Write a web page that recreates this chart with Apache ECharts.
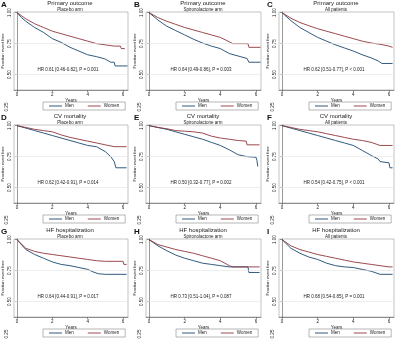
<!DOCTYPE html>
<html lang="en">
<head>
<meta charset="UTF-8">
<title>Kaplan-Meier curves by sex</title>
<script src="https://cdn.jsdelivr.net/npm/echarts@6/dist/echarts.min.js"></script>
<style>
    body { margin: 0; padding: 0; background: #fff; }
    #chart { width: 400px; height: 344px; }
</style>
</head>
<body>
<div id="chart"></div>
<script>
    // panel texts
    const outcomeTitles = ['Primary outcome', 'CV mortality', 'HF hospitalization'];
    const armNames = ['Placebo arm', 'Spironolactone arm', 'All patients'];
    const panelLetters = ['A', 'B', 'C', 'D', 'E', 'F', 'G', 'H', 'I'];
    const hrTexts = [
        'HR 0.61 [0.46-0.82], P = 0.001',
        'HR 0.64 [0.49-0.86], P = 0.003',
        'HR 0.62 [0.51-0.77], P < 0.001',
        'HR 0.62 [0.42-0.91], P = 0.014',
        'HR 0.50 [0.32-0.77], P = 0.002',
        'HR 0.54 [0.42-0.75], P < 0.001',
        'HR 0.64 [0.44-0.91], P = 0.017',
        'HR 0.73 [0.51-1.04], P = 0.087',
        'HR 0.68 [0.54-0.85], P = 0.001'
    ];
    const xTicks = [0, 2, 4, 6];
    const yTicks = [0.5, 0.75, 1.0];
    const gridValues = [0.5, 0.75];
    const strayTick = '0.25';

    // [years, fraction event free]
    const menA = [[0,1],[0.25,0.96],[0.5,0.93],[1,0.88],[1.5,0.84],[2,0.79],[2.5,0.76],[3,0.72],[3.5,0.69],[4,0.66],[4.5,0.645],[5,0.625],[5.3,0.6],[5.5,0.6],[5.55,0.57],[6.25,0.57]];
    const womenA = [[0,1],[0.5,0.95],[1,0.91],[1.5,0.88],[2,0.85],[2.5,0.83],[3,0.81],[3.5,0.79],[4,0.77],[4.5,0.75],[5,0.74],[5.5,0.73],[5.85,0.73],[5.9,0.71],[6.1,0.71]];
    const menB = [[0,1],[0.5,0.94],[1,0.89],[1.5,0.855],[2,0.82],[2.5,0.785],[3,0.755],[3.5,0.73],[4,0.71],[4.5,0.67],[5,0.65],[5.5,0.63],[5.6,0.6],[6.25,0.6]];
    const womenB = [[0,1],[0.5,0.96],[1,0.93],[1.5,0.905],[2,0.88],[2.5,0.86],[3,0.84],[3.5,0.82],[4,0.8],[4.5,0.765],[4.7,0.75],[5.55,0.75],[5.6,0.72],[6.25,0.72]];
    const menC = [[0,1],[0.5,0.935],[1,0.88],[1.5,0.84],[2,0.8],[2.5,0.77],[3,0.74],[3.5,0.715],[4,0.69],[4.5,0.66],[5,0.635],[5.4,0.61],[5.6,0.59],[6.2,0.59]];
    const womenC = [[0,1],[0.5,0.955],[1,0.92],[1.5,0.895],[2,0.87],[2.5,0.85],[3,0.83],[3.5,0.81],[4,0.79],[4.5,0.77],[5,0.755],[5.5,0.745],[6,0.73],[6.2,0.72]];
    const menD = [[0,1],[0.5,0.98],[1,0.96],[1.5,0.94],[2,0.92],[2.5,0.9],[3,0.88],[3.5,0.86],[4,0.84],[4.5,0.83],[5,0.79],[5.3,0.75],[5.5,0.71],[5.6,0.66],[6.2,0.66]];
    const womenD = [[0,1],[0.5,0.985],[1,0.97],[1.5,0.96],[2,0.95],[2.5,0.925],[3,0.905],[3.5,0.89],[4,0.875],[4.5,0.86],[5,0.845],[5.5,0.83],[6.2,0.83]];
    const menE = [[0,1],[0.5,0.985],[1,0.97],[1.5,0.95],[2,0.93],[2.5,0.91],[3,0.89],[3.5,0.865],[4,0.84],[4.5,0.805],[5,0.765],[5.5,0.75],[6,0.745],[6.05,0.72],[6.1,0.67]];
    const womenE = [[0,1],[0.5,0.985],[1,0.975],[1.5,0.96],[2,0.955],[2.5,0.95],[3,0.94],[3.5,0.915],[4,0.9],[4.5,0.89],[5,0.88],[5.45,0.875],[5.5,0.845],[6.2,0.845]];
    const menF = [[0,1],[0.5,0.98],[1,0.96],[1.5,0.94],[2,0.92],[2.5,0.9],[3,0.88],[3.5,0.86],[4,0.84],[4.5,0.8],[5,0.76],[5.4,0.73],[5.5,0.71],[6,0.7],[6.05,0.66],[6.2,0.66]];
    const womenF = [[0,1],[0.5,0.985],[1,0.97],[1.5,0.96],[2,0.95],[2.5,0.935],[3,0.92],[3.5,0.905],[4,0.89],[4.5,0.88],[5,0.865],[5.5,0.84],[6.2,0.84]];
    const menG = [[0,1],[0.5,0.92],[1,0.88],[1.5,0.85],[2,0.82],[2.5,0.8],[3,0.79],[3.5,0.775],[4,0.76],[4.3,0.74],[4.6,0.725],[5,0.72],[6.2,0.72]];
    const womenG = [[0,1],[0.5,0.93],[1,0.905],[1.5,0.89],[2,0.88],[2.5,0.87],[3,0.86],[3.5,0.85],[4,0.84],[4.5,0.83],[5,0.825],[6,0.825],[6.05,0.8],[6.2,0.8]];
    const menH = [[0,1],[0.5,0.95],[1,0.91],[1.5,0.875],[2,0.85],[2.5,0.83],[3,0.81],[3.5,0.8],[4,0.79],[4.5,0.78],[5,0.78],[5.55,0.78],[5.6,0.735],[6.2,0.735]];
    const womenH = [[0,1],[0.5,0.96],[1,0.94],[1.5,0.92],[2,0.905],[2.5,0.89],[3,0.87],[3.5,0.85],[4,0.83],[4.5,0.79],[4.7,0.78],[6.2,0.78]];
    const menI = [[0,1],[0.5,0.93],[1,0.89],[1.5,0.86],[2,0.84],[2.5,0.81],[3,0.79],[3.5,0.78],[4,0.775],[4.5,0.76],[5,0.745],[5.5,0.72],[6.2,0.72]];
    const womenI = [[0,1],[0.5,0.95],[1,0.92],[1.5,0.9],[2,0.88],[2.5,0.865],[3,0.85],[3.5,0.835],[4,0.82],[4.5,0.81],[5,0.8],[5.5,0.79],[6,0.78],[6.2,0.78]];

    const menCurves = [menA, menB, menC, menD, menE, menF, menG, menH, menI];
    const womenCurves = [womenA, womenB, womenC, womenD, womenE, womenF, womenG, womenH, womenI];

    const MEN_COLOR = '#1a476f';
    const WOMEN_COLOR = '#90353b';
    const colX = [0, 133, 266];
    const rowY = [0, 113, 227];
    const small = { fontFamily: 'Liberation Sans, Arial, sans-serif', color: '#222' };

    const chart = echarts.init(document.getElementById('chart'));
    const grids = [], xAxes = [], yAxes = [], series = [], titles = [], legends = [], graphics = [];

    for (let i = 0; i < 9; i++) {
        const r = Math.floor(i / 3), c = i % 3;
        const ox = colX[c], oy = rowY[r];

        grids.push({
            left: ox + 13, top: oy + 12, width: 115, height: 78,
            show: true, borderColor: '#9a9a9a', borderWidth: 0.6, backgroundColor: '#fff'
        });
        xAxes.push({
            gridIndex: i, type: 'value', min: -0.17, max: 6.28,
            name: 'Years', nameLocation: 'middle', nameGap: 8,
            nameTextStyle: Object.assign({ fontSize: 4.5 }, small),
            axisLine: { show: true, onZero: false, lineStyle: { color: '#555', width: 0.6 } },
            axisTick: { show: true, length: 2, customValues: xTicks, lineStyle: { color: '#555', width: 0.6 } },
            axisLabel: Object.assign({ fontSize: 4.5, margin: 2, customValues: xTicks }, small),
            splitLine: { show: false }
        });
        yAxes.push({
            gridIndex: i, type: 'value', min: 0.376, max: 1.005,
            name: 'Fraction event free', nameLocation: 'middle', nameGap: 9, nameRotate: 90,
            nameTextStyle: Object.assign({ fontSize: 4.2 }, small),
            axisLine: { show: true, lineStyle: { color: '#555', width: 0.6 } },
            axisTick: { show: true, length: 2, customValues: yTicks, lineStyle: { color: '#555', width: 0.6 } },
            axisLabel: Object.assign({
                fontSize: 4.5, margin: 2, rotate: 90, customValues: yTicks,
                formatter: v => v.toFixed(2)
            }, small),
            splitLine: { show: false }
        });
        series.push({
            name: 'Men', type: 'line', xAxisIndex: i, yAxisIndex: i,
            data: menCurves[i], symbol: 'none', silent: true, z: 3,
            lineStyle: { color: MEN_COLOR, width: 0.9 }, itemStyle: { color: MEN_COLOR },
            markLine: {
                silent: true, symbol: 'none', label: { show: false },
                lineStyle: { color: '#e3e3e3', width: 0.6, type: 'solid' },
                data: gridValues.map(v => ({ yAxis: v }))
            }
        });
        series.push({
            name: 'Women', type: 'line', xAxisIndex: i, yAxisIndex: i,
            data: womenCurves[i], symbol: 'none', silent: true, z: 3,
            lineStyle: { color: WOMEN_COLOR, width: 0.9 }, itemStyle: { color: WOMEN_COLOR }
        });
        titles.push({
            text: outcomeTitles[r], subtext: armNames[c],
            left: ox + 70, top: oy, textAlign: 'center', padding: 0, itemGap: 1,
            textStyle: Object.assign({ fontSize: 6, fontWeight: 'normal' }, small),
            subtextStyle: Object.assign({ fontSize: 4.5 }, small)
        });
        legends.push({
            data: ['Men', 'Women'], left: ox + 43, top: oy + 102,
            icon: 'rect', itemWidth: 13, itemHeight: 0.9, itemGap: 14,
            padding: [1.5, 6], borderColor: '#888', borderWidth: 0.6,
            textStyle: Object.assign({ fontSize: 4.5, padding: [0, 0, 0, -2] }, small)
        });
        graphics.push({
            type: 'text', left: ox + 1, top: oy + 1,
            style: { text: panelLetters[i], font: 'bold 8px Liberation Sans, Arial, sans-serif', fill: '#111' }
        });
        graphics.push({
            type: 'text', x: ox + 68, y: oy + 70,
            style: {
                text: hrTexts[i], font: '4.5px Liberation Sans, Arial, sans-serif',
                fill: '#222', align: 'center', verticalAlign: 'middle'
            }
        });
        graphics.push({
            type: 'text', x: ox + 7, y: oy + 107, rotation: Math.PI / 2,
            style: {
                text: strayTick, font: '4.5px Liberation Sans, Arial, sans-serif',
                fill: '#222', align: 'center', verticalAlign: 'middle'
            }
        });
    }

    chart.setOption({
        animation: false,
        backgroundColor: '#fff',
        title: titles,
        legend: legends,
        grid: grids,
        xAxis: xAxes,
        yAxis: yAxes,
        series: series,
        graphic: graphics
    });
</script>
</body>
</html>
